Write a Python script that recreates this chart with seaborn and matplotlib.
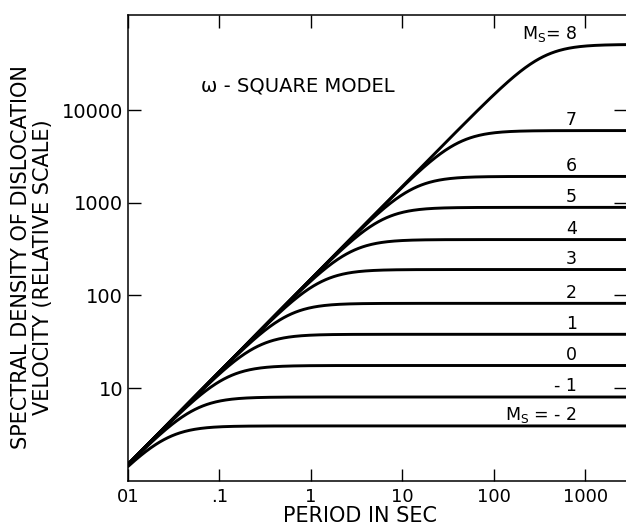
import numpy as np
import pandas as pd
import matplotlib
matplotlib.use("Agg")
import matplotlib.pyplot as plt
import seaborn as sns

# Surface-wave magnitude of each source
magnitudes = [-2, -1, 0, 1, 2, 3, 4, 5, 6, 7, 8]
# Long-period plateau of the spectral density for each magnitude (relative scale)
plateau_levels = [3.9, 8.0, 17.5, 38, 82, 190, 400, 890, 1920, 6000, 51000]
# Common short-period asymptote: density = envelope_coef * period
envelope_coef = 150.0
# Curve labels drawn above each plateau
curve_labels = [r"M$_\mathregular{S}$ = - 2", "- 1", "0", "1", "2", "3",
                "4", "5", "6", "7", r"M$_\mathregular{S}$= 8"]

x_ticks = [0.01, 0.1, 1, 10, 100, 1000]
x_tick_labels = ["01", ".1", "1", "10", "100", "1000"]
y_ticks = [10, 100, 1000, 10000]
y_tick_labels = ["10", "100", "1000", "10000"]

x_min, x_max = 0.01, 2800
y_min, y_max = 1, 1.06e5
label_period = 817
corner_sharpness = 2.2

sns.set_theme(style="ticks")
plt.rcParams["font.family"] = ["DejaVu Sans"]
plt.rcParams["text.color"] = "black"
plt.rcParams["xtick.color"] = "black"
plt.rcParams["ytick.color"] = "black"
plt.rcParams["xtick.labelcolor"] = "black"
plt.rcParams["ytick.labelcolor"] = "black"

# omega-square source spectrum: rises with period, flattens at the plateau
periods = np.logspace(np.log10(x_min), np.log10(x_max), 500)
frames = []
for ms, level in zip(magnitudes, plateau_levels):
    corner = level / envelope_coef
    u = periods / corner
    density = level * u / (1 + u ** corner_sharpness) ** (1 / corner_sharpness)
    frames.append(pd.DataFrame({"period": periods, "density": density, "Ms": ms}))
df = pd.concat(frames, ignore_index=True)

W, H = 626, 526
fig = plt.figure(figsize=(W / 100, H / 100), dpi=100)
left_px, right_px, top_px, bottom_px = 128, 626, 15, 480.7
ax = fig.add_axes([left_px / W, 1 - bottom_px / H,
                   (right_px - left_px) / W, (bottom_px - top_px) / H])

sns.lineplot(data=df, x="period", y="density", hue="Ms",
             palette=["black"] * len(magnitudes), estimator=None,
             legend=False, linewidth=2.1, ax=ax)

ax.set_xscale("log")
ax.set_yscale("log")
ax.set_xlim(x_min, x_max)
ax.set_ylim(y_min, y_max)

ax.set_xticks(x_ticks)
ax.set_xticklabels(x_tick_labels)
ax.set_yticks(y_ticks)
ax.set_yticklabels(y_tick_labels)
ax.minorticks_off()
ax.set_xlabel("")
ax.set_ylabel("")

for side in ["left", "bottom", "top"]:
    ax.spines[side].set_visible(True)
    ax.spines[side].set_linewidth(1.1)
    ax.spines[side].set_color("black")
ax.spines["right"].set_visible(False)

ax.tick_params(axis="x", which="major", direction="in", top=True, bottom=True,
               length=9, width=1.0, colors="black", labelsize=13, pad=5)
ax.tick_params(axis="y", which="major", direction="in", left=True, right=True,
               length=9, width=1.0, colors="black", labelsize=14, pad=3.5)

# Magnitude labels sit just above each plateau
for lab, level in zip(curve_labels, plateau_levels):
    ax.annotate(lab, xy=(label_period, level), xytext=(0, 4),
                textcoords="offset points", ha="right", va="baseline",
                fontsize=12.5, color="black")

ax.text(0.341, 0.8475, "\u03c9 - SQUARE MODEL", transform=ax.transAxes,
        ha="center", va="center", fontsize=14, color="black")

fig.text(360 / W, 1 - 516 / H, "PERIOD IN SEC", ha="center", va="center",
         fontsize=15, color="black")
fig.text(21 / W, 1 - 257 / H, "SPECTRAL DENSITY OF DISLOCATION", rotation=90,
         ha="center", va="center", fontsize=15, color="black")
fig.text(43 / W, 1 - 267 / H, "VELOCITY (RELATIVE SCALE)", rotation=90,
         ha="center", va="center", fontsize=15, color="black")

fig.savefig("out.png", dpi=100, facecolor="white")
